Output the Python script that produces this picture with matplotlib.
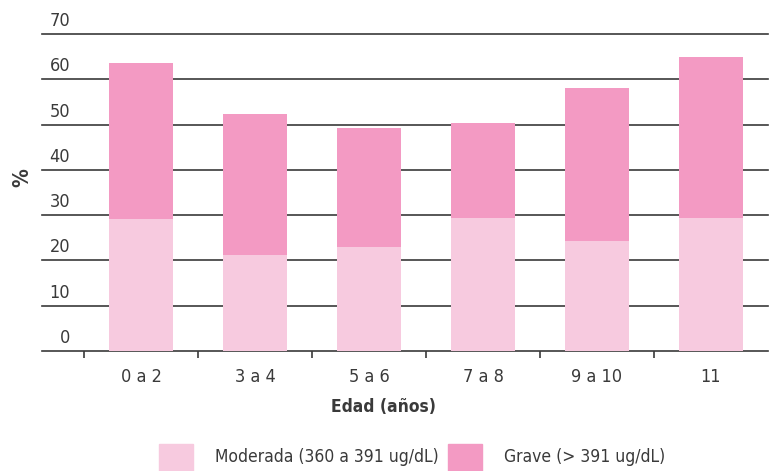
import matplotlib.pyplot as plt
from matplotlib.patches import Rectangle
from matplotlib.transforms import ScaledTranslation


# =========================
# DATA
# =========================

edades = ["0 a 2", "3 a 4", "5 a 6", "7 a 8", "9 a 10", "11"]

moderada = [29.1, 21.2, 23.0, 29.4, 24.3, 29.4]

grave = [34.5, 31.1, 26.2, 20.9, 33.8, 35.5]

y_ticks = [0, 10, 20, 30, 40, 50, 60, 70]

color_moderada = "#F7CADF"
color_grave = "#F39AC3"
text_color = "#3a3a3a"


# =========================
# FONT
# =========================

# narrow look, close to the condensed face of the original
plt.rcParams["font.family"] = ["DejaVu Sans"]
plt.rcParams["font.stretch"] = "condensed"


# =========================
# CHART
# =========================

fig = plt.figure(figsize=(7.71, 4.71), dpi=100)

ax = fig.add_axes([0.0545, 0.2548, 0.9415, 0.673])

x = list(range(len(edades)))

ax.bar(
    x,
    moderada,
    width=0.56,
    color=color_moderada,
    zorder=3
)

ax.bar(
    x,
    grave,
    bottom=moderada,
    width=0.56,
    color=color_grave,
    zorder=3
)

ax.set_xlim(-0.87, 5.5)
ax.set_ylim(0, 70)

# horizontal gridlines
for value in y_ticks:
    ax.axhline(value, color="#3a3a3a", linewidth=1.2, zorder=1, clip_on=False)

for side in ["top", "right", "left", "bottom"]:
    ax.spines[side].set_visible(False)

# y tick labels sit above each gridline
ax.set_yticks(y_ticks)
ax.set_yticklabels([str(v) for v in y_ticks])
ax.tick_params(axis="y", length=0, pad=0, labelsize=13, labelcolor=text_color)

offset = ScaledTranslation(28 / 100, 15 / 100, fig.dpi_scale_trans)
for label in ax.get_yticklabels():
    label.set_transform(label.get_transform() + offset)

# x ticks between categories
boundaries = [i + 0.5 for i in range(-1, len(edades) - 1)]
ax.set_xticks(boundaries)
ax.set_xticklabels([""] * len(boundaries))
ax.set_xticks(x, minor=True)
ax.set_xticklabels(edades, minor=True)
ax.tick_params(axis="x", which="major", length=5, width=1.2, color="#3a3a3a", direction="out")
ax.tick_params(axis="x", which="minor", length=0, pad=12, labelsize=13, labelcolor=text_color)

fig.text(
    0.497,
    0.136,
    "Edad (años)",
    ha="center",
    va="center",
    fontsize=12.5,
    fontweight="bold",
    color=text_color
)

fig.text(
    0.029,
    0.622,
    "%",
    ha="center",
    va="center",
    rotation=90,
    fontsize=15,
    fontweight="bold",
    color=text_color
)


# =========================
# LEGEND
# =========================

legend_items = [
    ("Moderada (360 a 391 ug/dL)", color_moderada, 159, 215),
    ("Grave (> 391 ug/dL)", color_grave, 448, 504),
]

for name, color, patch_x, text_x in legend_items:

    fig.patches.append(
        Rectangle(
            (patch_x / 771, 0),
            34 / 771,
            27 / 471,
            transform=fig.transFigure,
            color=color
        )
    )

    fig.text(
        text_x / 771,
        1 - 457 / 471,
        name,
        ha="left",
        va="center",
        fontsize=12.5,
        color=text_color
    )

fig.savefig("out.png", dpi=100)
